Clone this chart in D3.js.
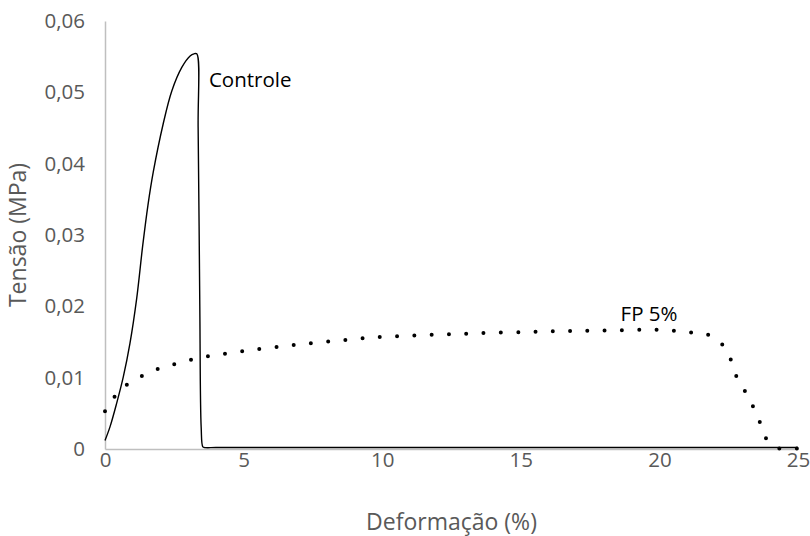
<!DOCTYPE html>
<html>
<head>
<meta charset="utf-8">
<script src="https://cdn.jsdelivr.net/npm/d3@7"></script>
<style>
  html, body { margin: 0; padding: 0; background: #fff; }
  svg text { font-family: "Open Sans", sans-serif; }
</style>
</head>
<body>
<div id="chart"></div>
<script>
// Controle (solid line)
const ctrlStrain = [0, 0.18, 0.42, 0.66, 0.90, 1.14, 1.36, 1.55, 1.74, 2.10, 2.41, 2.77, 3.07, 3.21, 3.31, 3.36, 3.42, 3.47, 3.53, 3.6, 4.0, 6, 25];
const ctrlStress = [0.0012, 0.0031, 0.0064, 0.0101, 0.0148, 0.0210, 0.0285, 0.0342, 0.0388, 0.0456, 0.0502, 0.0535, 0.0551, 0.0554, 0.0554, 0.0450, 0.0200, 0.0030, 0.0003, 0.0002, 0.0002, 0.0002, 0.0002];

// FP 5% (dotted line)
const fpStrain = [0, 0.34, 0.78, 1.32, 1.90, 2.5, 3.1, 3.72, 4.95, 6.83, 8.69, 9.95, 12.45, 16.2, 18.1, 19.97, 21.22, 21.84, 22.32, 22.61, 22.8, 23.12, 23.41, 23.65, 23.88, 24.3, 25];
const fpStress = [0.0053, 0.0073, 0.0090, 0.0102, 0.0112, 0.0119, 0.0125, 0.0130, 0.0137, 0.0146, 0.0153, 0.0157, 0.0161, 0.0165, 0.0166, 0.0167, 0.0163, 0.0159, 0.0144, 0.0122, 0.0100, 0.0079, 0.0057, 0.0035, 0.0013, 0.0001, 0.0001];

const xTicks = [0, 5, 10, 15, 20, 25];
const yTicks = [0, 0.01, 0.02, 0.03, 0.04, 0.05, 0.06];

const W = 810, H = 536;
const margin = { top: 21, right: 12, bottom: 87, left: 105 };
const width = W - margin.left - margin.right;
const height = H - margin.top - margin.bottom;

const svg = d3.select("#chart").append("svg")
  .attr("width", W).attr("height", H);

const g = svg.append("g")
  .attr("transform", `translate(${margin.left},${margin.top})`);

const x = d3.scaleLinear().domain([0, 25]).range([0, width]);
const y = d3.scaleLinear().domain([0, 0.06]).range([height, 0]);

// axes (no tick marks, light grey lines)
const xAxis = g.append("g")
  .attr("transform", `translate(0,${height})`)
  .call(d3.axisBottom(x).tickValues(xTicks).tickSize(0).tickPadding(3).tickFormat(d3.format("d")));
const yAxis = g.append("g")
  .call(d3.axisLeft(y).tickValues(yTicks).tickSize(0).tickPadding(20)
    .tickFormat(d => d === 0 ? "0" : d.toFixed(2).replace(".", ",")));

[xAxis, yAxis].forEach(a => {
  a.select(".domain").attr("stroke", "#bfbfbf").attr("stroke-width", 1.5);
  a.selectAll("text")
    .attr("fill", "#595959")
    .style("font-size", "20.5px")
    .style("font-family", "'Open Sans', sans-serif");
});

// series
const pts = (xs, ys) => xs.map((v, i) => [v, ys[i]]);

const line = d3.line()
  .x(d => x(d[0]))
  .y(d => y(d[1]))
  .curve(d3.curveCatmullRom.alpha(0.5));

g.append("path")
  .datum(pts(fpStrain, fpStress))
  .attr("d", line)
  .attr("fill", "none")
  .attr("stroke", "#000")
  .attr("stroke-width", 4)
  .attr("stroke-linecap", "round")
  .attr("stroke-dasharray", "0 17.3");

g.append("path")
  .datum(pts(ctrlStrain, ctrlStress))
  .attr("d", line)
  .attr("fill", "none")
  .attr("stroke", "#000")
  .attr("stroke-width", 1.4);

// series labels
g.append("text")
  .attr("x", x(3.75)).attr("y", y(0.0508))
  .attr("fill", "#000")
  .style("font-size", "20.5px")
  .text("Controle");

g.append("text")
  .attr("x", x(18.6)).attr("y", y(0.0179))
  .attr("fill", "#000")
  .style("font-size", "20.5px")
  .text("FP 5%");

// axis titles
svg.append("text")
  .attr("x", margin.left + width / 2).attr("y", 530)
  .attr("text-anchor", "middle")
  .attr("fill", "#595959")
  .style("font-size", "23px")
  .text("Deformação (%)");

svg.append("text")
  .attr("transform", `translate(26,${margin.top + height / 2}) rotate(-90)`)
  .attr("text-anchor", "middle")
  .attr("fill", "#595959")
  .style("font-size", "23px")
  .text("Tensão (MPa)");
</script>
</body>
</html>
